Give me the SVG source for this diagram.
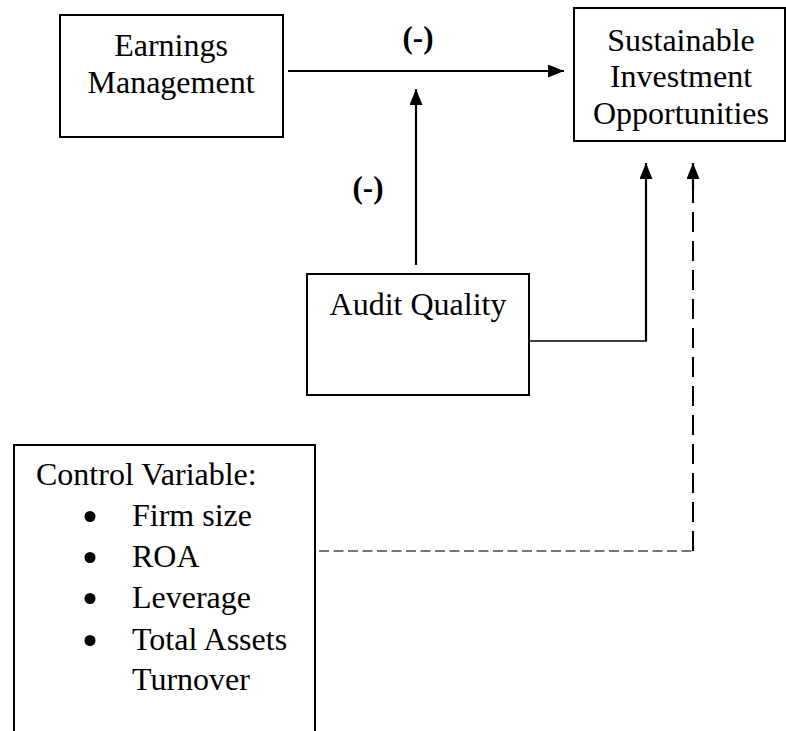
<svg xmlns="http://www.w3.org/2000/svg" width="786" height="731" viewBox="0 0 786 731">
  <style>
    .box { fill: #ffffff; stroke: #000000; stroke-width: 2; }
    .label { font-family: "Liberation Serif", "Times New Roman", serif; font-size: 32px; fill: #000000; }
    .mid { text-anchor: middle; }
    .sign { font-family: "Liberation Serif", "Times New Roman", serif; font-size: 31px; font-weight: bold; text-anchor: middle; fill: #000000; }
    .line { fill: none; stroke: #000000; stroke-width: 2.2; }
    .thin { fill: none; stroke: #000000; stroke-width: 1.3; }
    .dash-v { fill: none; stroke: #000000; stroke-width: 2; stroke-dasharray: 20 9; }
    .dash-h { fill: none; stroke: #4a4a4a; stroke-width: 1.6; stroke-dasharray: 10 4.5; }
  </style>
  <defs>
    <marker id="head" markerUnits="userSpaceOnUse" markerWidth="16" markerHeight="14" refX="16" refY="6.5" orient="auto">
      <path d="M0,0 L16,6.5 L0,13 Z" fill="#000000"/>
    </marker>
  </defs>

  <rect width="786" height="731" fill="#ffffff"/>

  <!-- connectors -->
  <g id="connectors">
    <!-- Earnings Management -> Sustainable Investment Opportunities -->
    <line class="line" x1="288" y1="71" x2="564" y2="71" marker-end="url(#head)"/>
    <!-- Audit Quality moderating the main path -->
    <line class="line" x1="416" y1="265" x2="416" y2="89" marker-end="url(#head)"/>
    <!-- Audit Quality -> Sustainable Investment Opportunities -->
    <line class="thin" x1="529" y1="341" x2="646" y2="341"/>
    <line class="line" x1="646" y1="341.6" x2="646" y2="163" marker-end="url(#head)"/>
    <!-- Control variables -> Sustainable Investment Opportunities -->
    <line class="dash-h" x1="319" y1="551" x2="693" y2="551"/>
    <line class="dash-v" x1="693" y1="551" x2="693" y2="178"/>
    <line class="line" x1="693" y1="190" x2="693" y2="163" marker-end="url(#head)"/>
    <text class="sign" x="418" y="48">(-)</text>
    <text class="sign" x="368" y="198">(-)</text>
  </g>

  <g id="earnings-management">
    <rect class="box" x="60" y="15" width="223" height="122"/>
    <text class="label mid" x="171" y="56">Earnings</text>
    <text class="label mid" x="171" y="93">Management</text>
  </g>

  <g id="sustainable-investment">
    <rect class="box" x="574" y="8" width="211" height="133"/>
    <text class="label mid" x="681" y="51">Sustainable</text>
    <text class="label mid" x="681" y="87">Investment</text>
    <text class="label mid" x="681" y="124">Opportunities</text>
  </g>

  <g id="audit-quality">
    <rect class="box" x="307" y="274" width="222" height="121"/>
    <text class="label mid" x="418" y="315">Audit Quality</text>
  </g>

  <g id="control-variables">
    <rect class="box" x="14" y="445" width="301" height="300"/>
    <text class="label" x="36" y="485">Control Variable:</text>
    <circle cx="90" cy="516.5" r="5.5"/>
    <text class="label" x="132" y="526">Firm size</text>
    <circle cx="90" cy="557.5" r="5.5"/>
    <text class="label" x="132" y="567">ROA</text>
    <circle cx="90" cy="598.5" r="5.5"/>
    <text class="label" x="132" y="608">Leverage</text>
    <circle cx="90" cy="640.5" r="5.5"/>
    <text class="label" x="132" y="650">Total Assets</text>
    <text class="label" x="132" y="690">Turnover</text>
  </g>
</svg>
